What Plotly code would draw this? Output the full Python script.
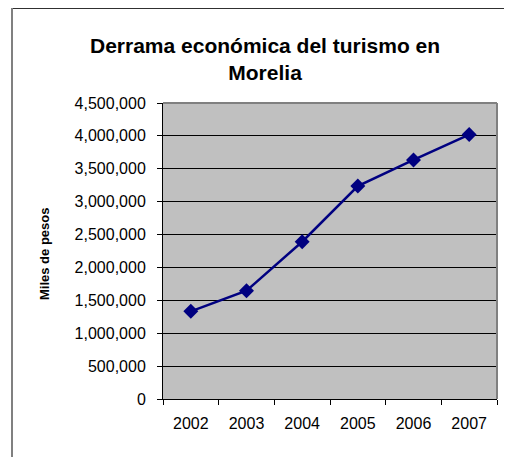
import plotly.graph_objects as go

# datos
anios = ['2002', '2003', '2004', '2005', '2006', '2007']
derrama = [1333000, 1647000, 2391000, 3237000, 3635000, 4020000]

# la pagina tiene 8px de margen en el body, se compensa aqui
OFF = 8
W, H = 512 - OFF, 457 - OFF
ml, mr, mt, mb = 163 - OFF, 15, 103 - OFF, 58
pw = W - ml - mr
ph = H - mt - mb

def px_x(x):
    return (x - OFF - ml) / pw

def px_y(y):
    return (H - mb - (y - OFF)) / ph

fig = go.Figure()
fig.add_trace(go.Scatter(
    x=anios, y=derrama, mode='lines+markers',
    line=dict(color='#000080', width=2.5),
    marker=dict(symbol='diamond', size=11.5, color='#000080'),
    showlegend=False, cliponaxis=False))

fig.update_layout(
    width=W, height=H,
    margin=dict(l=ml, r=mr, t=mt, b=mb),
    paper_bgcolor='white',
    plot_bgcolor='#C0C0C0',
    font=dict(family='Arial, Liberation Sans', color='black', size=16),
    xaxis=dict(type='category', range=[-0.5, 5.5], tickson='boundaries',
               ticks='outside', ticklen=5, tickcolor='black',
               showline=True, linecolor='black', linewidth=1,
               showgrid=False, ticklabelstandoff=10),
    yaxis=dict(range=[0, 4500000], dtick=500000, tickformat=',d',
               ticks='outside', ticklen=5, tickcolor='black',
               showline=True, linecolor='black', linewidth=1,
               showgrid=True, gridcolor='black', gridwidth=1,
               zeroline=False, ticklabelstandoff=8),
)

# borde gris del area de trazado (arriba y derecha)
fig.add_shape(type='line', xref='paper', yref='paper', x0=0, x1=1, y0=1, y1=1,
              line=dict(color='#808080', width=2))
fig.add_shape(type='line', xref='paper', yref='paper', x0=1, x1=1, y0=0, y1=1,
              line=dict(color='#808080', width=2))

# marco exterior del grafico
fig.add_shape(type='line', xref='paper', yref='paper',
              x0=px_x(12), x1=px_x(530), y0=px_y(8), y1=px_y(8),
              line=dict(color='#303030', width=2))
fig.add_shape(type='line', xref='paper', yref='paper',
              x0=px_x(12), x1=px_x(12), y0=px_y(8), y1=px_y(470),
              line=dict(color='#808080', width=2))

fig.add_annotation(text='<b>Derrama económica del turismo en<br>Morelia</b>',
                   xref='paper', yref='paper', x=px_x(265), y=px_y(59),
                   xanchor='center', yanchor='middle', showarrow=False,
                   font=dict(size=21, color='black'))
fig.add_annotation(text='<b>Miles de pesos</b>', textangle=-90,
                   xref='paper', yref='paper', x=px_x(44), y=px_y(254),
                   xanchor='center', yanchor='middle', showarrow=False,
                   font=dict(size=13, color='black'))

fig.write_html("out.html")
